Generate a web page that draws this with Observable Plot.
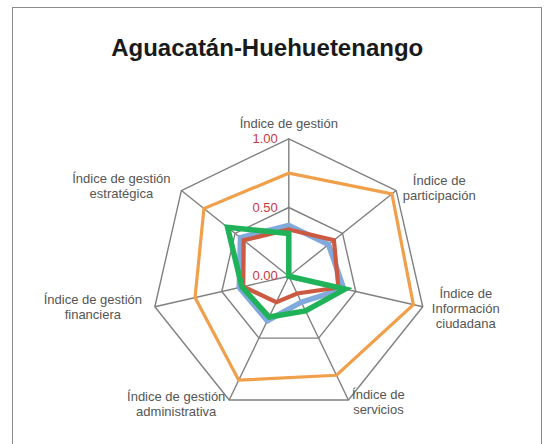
<!DOCTYPE html>
<html>
<head>
<meta charset="utf-8">
<script src="https://cdn.jsdelivr.net/npm/d3@7"></script>
<script src="https://cdn.jsdelivr.net/npm/@observablehq/plot@0.6"></script>
<style>
  html, body { margin: 0; padding: 0; background: #fff; }
  #wrap { position: relative; width: 546px; height: 444px; overflow: hidden; }
  #border { position: absolute; left: 12px; top: 7px; width: 530px; height: 460px;
            border: 1.5px solid #8c8c8c; box-sizing: border-box; }
  #chart { position: absolute; left: 0; top: 0; }
</style>
</head>
<body>
<div id="wrap"><div id="border"></div><div id="chart"></div></div>
<script>
const title = "Aguacatán-Huehuetenango";
const axisLabels = [
  "Índice de gestión",
  "Índice de\nparticipación",
  "Índice de\nInformación\nciudadana",
  "Índice de\nservicios",
  "Índice de gestión\nadministrativa",
  "Índice de gestión\nfinanciera",
  "Índice de gestión\nestratégica"
];
const seriesOrange = [0.75, 0.96, 0.93, 0.80, 0.84, 0.70, 0.79];
const seriesBlue   = [0.37, 0.37, 0.41, 0.21, 0.36, 0.37, 0.45];
const seriesRed    = [0.34, 0.42, 0.37, 0.14, 0.21, 0.34, 0.42];
const seriesGreen  = [0.31, 0.00, 0.42, 0.28, 0.33, 0.35, 0.57];
const tickValues = [0, 0.5, 1];
const tickLabels = ["0.00", "0.50", "1.00"];
const ringLevels = [0.5, 1];

// layout / style (kept separate from data)
const W = 546, H = 444, CX = 288.3, CY = 275.7, R = 137.4;
const labelOffsets = [[0,-15.5],[43,-2.5],[43,1],[30,2],[-53,4],[-62,0],[-60,-5]];
const seriesStyle = [
  {name: "A", values: seriesOrange, color: "#f0a04b", width: 3.2},
  {name: "B", values: seriesBlue,   color: "#82a9dc", width: 5.5},
  {name: "C", values: seriesRed,    color: "#cc5a42", width: 4.2},
  {name: "D", values: seriesGreen,  color: "#1fb259", width: 5.5}
];

const n = axisLabels.length;
const ang = i => i * 2 * Math.PI / n;
const pt = (i, r) => ({x: r * Math.sin(ang(i)), y: r * Math.cos(ang(i))});

const rings = ringLevels.flatMap(lv => d3.range(n + 1).map(i => ({...pt(i % n, lv), lv})));
const spokes = d3.range(n).map(i => ({i, ...pt(i, 1)}));
const lines = seriesStyle.flatMap(s => s.values.map((v, i) => ({...pt(i, v), s: s.name})));
const labels = axisLabels.map((t, i) => ({...pt(i, 1), t, dx: labelOffsets[i][0], dy: labelOffsets[i][1]}));
const ticks = tickValues.map((v, k) => ({x: 0, y: v, t: tickLabels[k]}));

const marks = [
  Plot.line(rings, {x: "x", y: "y", z: "lv", stroke: "#808080", strokeWidth: 1.4}),
  Plot.link(spokes, {x1: 0, y1: 0, x2: "x", y2: "y", stroke: "#808080", strokeWidth: 1.4}),
  ...seriesStyle.map(s => Plot.line(lines.filter(d => d.s === s.name), {
    x: "x", y: "y", curve: "linear-closed", stroke: s.color, strokeWidth: s.width,
    strokeLinejoin: "miter", strokeMiterlimit: 3
  })),
  Plot.text(ticks, {x: "x", y: "y", text: "t", textAnchor: "end", dx: -11, dy: 0,
    fill: "#c8373f", fontSize: 13, fontFamily: "Liberation Sans"}),
  ...labels.map(d => Plot.text([d], {x: "x", y: "y", text: "t", dx: d.dx, dy: d.dy,
    textAnchor: "middle", lineAnchor: "middle", lineHeight: 1.16,
    fill: "#555555", fontSize: 13, fontFamily: "Liberation Sans"})),
  Plot.text([title], {frameAnchor: "top", text: d => d, dx: -6.3, dy: 55, lineAnchor: "bottom",
    fontSize: 24, fontWeight: "bold", fill: "#1a1a1a", fontFamily: "Liberation Sans"})
];

const chart = Plot.plot({
  width: W, height: H,
  margin: 0,
  x: {domain: [-CX / R, (W - CX) / R], axis: null},
  y: {domain: [-(H - CY) / R, CY / R], axis: null},
  style: {background: "transparent", overflow: "visible"},
  marks
});
document.getElementById("chart").appendChild(chart);
</script>
</body>
</html>
